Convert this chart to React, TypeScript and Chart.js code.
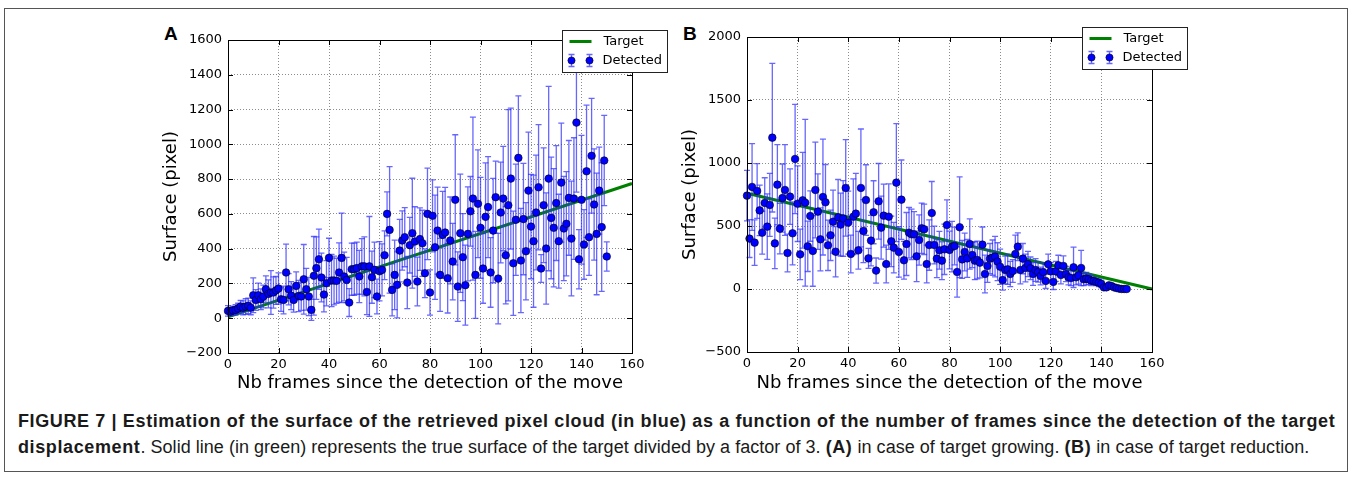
import React, { useEffect, useRef } from "react";
import { Chart, registerables } from "chart.js";

Chart.register(...registerables);

// ---------------- DATA ----------------
const FRAMES: number[] = Array.from({ length: 151 }, (_, i) => i);
const X_TICK_STEP = 20;

// Panel A: target growing
const DETECTED_A: number[] = [
  42, 38, 45, 48, 56, 67, 60, 67, 71, 60,
  132, 105, 132, 109, 125, 167, 140, 148, 148, 160,
  171, 109, 105, 263, 167, 130, 105, 186, 128, 125,
  224, 167, 125, 48, 244, 288, 339, 234, 136, 201,
  347, 217, 217, 215, 263, 347, 240, 220, 90, 282,
  282, 288, 240, 298, 298, 151, 298, 236, 278, 125,
  270, 278, 362, 600, 508, 163, 249, 192, 389, 447,
  466, 205, 420, 489, 441, 211, 455, 431, 259, 600,
  148, 589, 408, 504, 249, 479, 493, 230, 447, 326,
  681, 182, 489, 351, 190, 485, 615, 688, 249, 658,
  520, 286, 583, 639, 263, 504, 696, 228, 608, 688,
  362, 650, 803, 316, 566, 922, 332, 570, 385, 734,
  527, 443, 608, 753, 286, 650, 401, 803, 577, 520,
  662, 443, 780, 516, 543, 692, 458, 688, 1125, 339,
  681, 424, 845, 466, 934, 654, 485, 734, 524, 907,
  355,
];
const ERROR_A: number[] = [
  30, 25, 25, 30, 30, 35, 40, 45, 45, 40,
  100, 60, 70, 60, 65, 77, 80, 126, 90, 80,
  90, 70, 80, 163, 90, 80, 70, 80, 90, 80,
  200, 120, 110, 60, 226, 180, 173, 140, 100, 130,
  113, 150, 140, 130, 170, 257, 140, 130, 80, 150,
  150, 150, 150, 160, 170, 130, 287, 150, 160, 100,
  170, 150, 140, 127, 364, 150, 200, 190, 180, 170,
  170, 150, 160, 316, 200, 140, 180, 190, 140, 263,
  130, 207, 300, 250, 210, 250, 260, 200, 250, 220,
  374, 200, 340, 250, 230, 270, 200, 469, 250, 310,
  290, 200, 310, 290, 200, 300, 207, 260, 290, 300,
  280, 550, 405, 300, 320, 357, 300, 320, 280, 336,
  300, 380, 330, 360, 80, 330, 320, 530, 350, 340,
  330, 270, 342, 300, 300, 330, 330, 350, 400, 170,
  370, 200, 380, 220, 330, 320, 350, 250, 370, 260,
  84,
];
const TARGET_A_X: number[] = [0, 160];
const TARGET_A_Y: number[] = [8, 775];
const Y_TICKS_A = { min: -200, max: 1600, step: 200 };

// Panel B: target reduction
const DETECTED_B: number[] = [
  741, 400, 810, 368, 778, 624, 447, 683, 495, 667,
  1201, 362, 828, 479, 722, 786, 286, 733, 442, 1032,
  677, 275, 704, 685, 339, 579, 302, 786, 614, 394,
  730, 688, 347, 426, 534, 296, 569, 511, 560, 802,
  527, 278, 574, 598, 307, 802, 460, 706, 243, 384,
  609, 146, 696, 487, 582, 198, 574, 378, 328, 844,
  294, 709, 228, 357, 447, 434, 434, 259, 389, 482,
  474, 198, 349, 603, 349, 241, 307, 225, 315, 508,
  310, 336, 341, 135, 490, 235, 294, 243, 357, 270,
  225, 230, 209, 352, 119, 183, 241, 249, 257, 217,
  177, 71, 151, 156, 119, 143, 278, 336, 151, 241,
  167, 198, 164, 119, 151, 135, 103, 135, 64, 196,
  140, 56, 140, 188, 111, 183, 119, 93, 87, 172,
  93, 108, 167, 77, 82, 77, 66, 64, 56, 50,
  40, 13, 13, 29, 24, 13, 8, 3, 0, 0,
  0,
];
const ERROR_B: number[] = [
  200, 150, 344, 180, 217, 200, 170, 200, 260, 250,
  590, 200, 318, 200, 270, 360, 150, 220, 250, 434,
  300, 200, 380, 662, 200, 200, 280, 380, 300, 250,
  460, 300, 200, 200, 250, 200, 300, 250, 300, 383,
  250, 150, 300, 320, 150, 468, 250, 280, 80, 200,
  250, 100, 300, 250, 250, 150, 260, 200, 200, 468,
  200, 315, 150, 250, 200, 200, 180, 200, 200, 200,
  200, 150, 200, 250, 150, 150, 150, 150, 200, 200,
  150, 200, 150, 200, 400, 150, 150, 150, 200, 100,
  150, 150, 120, 140, 150, 130, 120, 140, 160, 150,
  140, 80, 110, 120, 100, 90, 150, 110, 110, 120,
  110, 100, 90, 90, 90, 80, 70, 70, 60, 80,
  70, 60, 80, 80, 70, 80, 60, 60, 60, 160,
  60, 70, 140, 50, 50, 40, 40, 30, 30, 30,
  30, 20, 20, 20, 15, 15, 10, 8, 8, 8,
  8,
];
const TARGET_B_X: number[] = [0, 160];
const TARGET_B_Y: number[] = [760, 0];
const Y_TICKS_B = { min: -500, max: 2000, step: 500 };

const LEGEND_LABELS = ["Target", "Detected"];
const X_TITLE = "Nb frames since the detection of the move";
const Y_TITLE = "Surface (pixel)";

// ---------------- STYLE ----------------
const TICK_FONT = { family: "'DejaVu Sans', sans-serif", size: 13 };
const TITLE_FONT = { family: "'DejaVu Sans', sans-serif", size: 18 };
const GREEN = "#008000";
const BLUE = "#0000ff";
const ERR_COLOR = "rgba(45,45,255,0.72)";

type Panel = {
  detected: number[];
  errors: number[];
  tx: number[];
  ty: number[];
  yt: { min: number; max: number; step: number };
  yWidth: number;
  xHeight: number;
  padTop: number;
  padRight: number;
  yTitlePad: number;
};

const PANEL_A: Panel = {
  detected: DETECTED_A,
  errors: ERROR_A,
  tx: TARGET_A_X,
  ty: TARGET_A_Y,
  yt: Y_TICKS_A,
  yWidth: 93,
  xHeight: 52,
  padTop: 30,
  padRight: 43,
  yTitlePad: 26,
};
const PANEL_B: Panel = {
  detected: DETECTED_B,
  errors: ERROR_B,
  tx: TARGET_B_X,
  ty: TARGET_B_Y,
  yt: Y_TICKS_B,
  yWidth: 72,
  xHeight: 53,
  padTop: 27,
  padRight: 48,
  yTitlePad: 5,
};

const fmt = (v: number | string) => String(v).replace("-", "\u2212");

function makeChart(canvas: HTMLCanvasElement, p: Panel) {
  const errPlugin = {
    id: "errbars",
    afterDatasetDraw(chart: any, args: any) {
      if (args.index !== 0) return;
      const { ctx, scales } = chart;
      const xs = scales.x;
      const ys = scales.y;
      ctx.save();
      ctx.strokeStyle = ERR_COLOR;
      ctx.lineWidth = 1.3;
      FRAMES.forEach((f, i) => {
        const v = p.detected[i];
        const e = p.errors[i];
        const px = xs.getPixelForValue(f);
        const top = ys.getPixelForValue(v + e);
        const bot = ys.getPixelForValue(v - e);
        ctx.beginPath();
        ctx.moveTo(px, top);
        ctx.lineTo(px, bot);
        ctx.moveTo(px - 3, top);
        ctx.lineTo(px + 3, top);
        ctx.moveTo(px - 3, bot);
        ctx.lineTo(px + 3, bot);
        ctx.stroke();
      });
      ctx.restore();
    },
  };

  const framePlugin = {
    id: "frameTicks",
    afterDraw(chart: any) {
      const { ctx, chartArea: a, scales } = chart;
      ctx.save();
      ctx.strokeStyle = "#000";
      ctx.lineWidth = 1;
      // inward ticks
      ctx.beginPath();
      scales.x.ticks.forEach((t: any) => {
        const px = Math.round(scales.x.getPixelForValue(t.value)) + 0.5;
        ctx.moveTo(px, a.bottom);
        ctx.lineTo(px, a.bottom - 5);
        ctx.moveTo(px, a.top);
        ctx.lineTo(px, a.top + 5);
      });
      scales.y.ticks.forEach((t: any) => {
        const py = Math.round(scales.y.getPixelForValue(t.value)) + 0.5;
        ctx.moveTo(a.left, py);
        ctx.lineTo(a.left + 5, py);
        ctx.moveTo(a.right, py);
        ctx.lineTo(a.right - 5, py);
      });
      ctx.stroke();
      ctx.strokeRect(
        Math.round(a.left) + 0.5,
        Math.round(a.top) + 0.5,
        Math.round(a.right - a.left),
        Math.round(a.bottom - a.top)
      );

      // legend box
      const bx = Math.round(a.right) - 70 + 0.5;
      const by = Math.round(a.top) - 10 + 0.5;
      const bw = 105;
      const bh = 42;
      ctx.fillStyle = "#fff";
      ctx.fillRect(bx, by, bw, bh);
      ctx.strokeStyle = "#222";
      ctx.strokeRect(bx, by, bw, bh);
      // target sample
      ctx.strokeStyle = GREEN;
      ctx.lineWidth = 3;
      ctx.beginPath();
      ctx.moveTo(bx + 7, by + 11);
      ctx.lineTo(bx + 29, by + 11);
      ctx.stroke();
      // detected sample
      [bx + 9, bx + 27].forEach((cx) => {
        const cy = by + 30;
        ctx.strokeStyle = ERR_COLOR;
        ctx.lineWidth = 1.3;
        ctx.beginPath();
        ctx.moveTo(cx, cy - 6);
        ctx.lineTo(cx, cy + 6);
        ctx.moveTo(cx - 3, cy - 6);
        ctx.lineTo(cx + 3, cy - 6);
        ctx.moveTo(cx - 3, cy + 6);
        ctx.lineTo(cx + 3, cy + 6);
        ctx.stroke();
        ctx.fillStyle = BLUE;
        ctx.strokeStyle = "#000";
        ctx.lineWidth = 0.6;
        ctx.beginPath();
        ctx.arc(cx, cy, 3.6, 0, Math.PI * 2);
        ctx.fill();
        ctx.stroke();
      });
      ctx.fillStyle = "#000";
      ctx.font = "13px 'DejaVu Sans', sans-serif";
      ctx.textBaseline = "middle";
      ctx.textAlign = "left";
      ctx.fillText(LEGEND_LABELS[0], bx + 41, by + 11);
      ctx.fillText(LEGEND_LABELS[1], bx + 40, by + 30);
      ctx.restore();
    },
  };

  return new Chart(canvas, {
    type: "scatter",
    data: {
      datasets: [
        {
          label: LEGEND_LABELS[0],
          data: p.tx.map((x, i) => ({ x, y: p.ty[i] })),
          showLine: true,
          borderColor: GREEN,
          borderWidth: 3,
          pointRadius: 0,
          order: 1,
        },
        {
          label: LEGEND_LABELS[1],
          data: FRAMES.map((x, i) => ({ x, y: p.detected[i] })),
          showLine: false,
          backgroundColor: BLUE,
          borderColor: "#000",
          borderWidth: 0.6,
          pointRadius: 3.8,
          order: 0,
        },
      ],
    },
    options: {
      responsive: false,
      animation: false,
      clip: false as any,
      layout: { padding: { top: p.padTop, right: p.padRight, left: 0, bottom: 0 } },
      plugins: { legend: { display: false }, tooltip: { enabled: false } },
      scales: {
        x: {
          type: "linear",
          min: 0,
          max: 160,
          afterFit: (s: any) => {
            s.height = p.xHeight;
          },
          ticks: {
            stepSize: X_TICK_STEP,
            color: "#000",
            font: TICK_FONT,
            padding: 4,
            maxRotation: 0,
            callback: (v: any) => fmt(v),
          },
          grid: { color: "rgba(0,0,0,0.45)", lineWidth: 1, drawTicks: false },
          border: { display: false, dash: [1, 2] },
          title: {
            display: true,
            text: X_TITLE,
            color: "#000",
            font: TITLE_FONT,
            padding: { top: 0, bottom: 11 },
          },
        },
        y: {
          type: "linear",
          min: p.yt.min,
          max: p.yt.max,
          afterFit: (s: any) => {
            s.width = p.yWidth;
          },
          ticks: {
            stepSize: p.yt.step,
            color: "#000",
            font: TICK_FONT,
            padding: 6,
            callback: (v: any) => fmt(v),
          },
          grid: { color: "rgba(0,0,0,0.45)", lineWidth: 1, drawTicks: false },
          border: { display: false, dash: [1, 2] },
          title: {
            display: true,
            text: Y_TITLE,
            color: "#000",
            font: TITLE_FONT,
            padding: { top: p.yTitlePad, bottom: 0 },
          },
        },
      },
    } as any,
    plugins: [errPlugin, framePlugin],
  });
}

export default function App() {
  const refA = useRef<HTMLCanvasElement>(null);
  const refB = useRef<HTMLCanvasElement>(null);

  useEffect(() => {
    const a = makeChart(refA.current!, PANEL_A);
    const b = makeChart(refB.current!, PANEL_B);
    return () => {
      a.destroy();
      b.destroy();
    };
  }, []);

  const capStyle: React.CSSProperties = {
    position: "absolute",
    left: 18,
    top: 408,
    width: 1330,
    fontFamily: "'Liberation Sans', Arial, sans-serif",
    fontSize: 18,
    lineHeight: "26px",
    color: "#1a1a1a",
    whiteSpace: "nowrap",
  };
  const boldSp = { letterSpacing: "0.62px" };

  return (
    <div
      style={{
        position: "fixed",
        left: 0,
        top: 0,
        width: 1352,
        height: 478,
        background: "#fff",
        overflow: "hidden",
      }}
    >
      <div
        style={{
          position: "absolute",
          left: 4,
          top: 8,
          width: 1342,
          height: 462,
          border: "1px solid #555",
        }}
      />
      <div
        style={{
          position: "absolute",
          left: 164,
          top: 23,
          fontFamily: "'Liberation Sans', Arial, sans-serif",
          fontWeight: "bold",
          fontSize: 19,
          color: "#000",
        }}
      >
        A
      </div>
      <div
        style={{
          position: "absolute",
          left: 683,
          top: 23,
          fontFamily: "'Liberation Sans', Arial, sans-serif",
          fontWeight: "bold",
          fontSize: 19,
          color: "#000",
        }}
      >
        B
      </div>
      <canvas
        ref={refA}
        width={540}
        height={395}
        style={{ position: "absolute", left: 135, top: 10, display: "block" }}
      />
      <canvas
        ref={refB}
        width={525}
        height={395}
        style={{ position: "absolute", left: 675, top: 10, display: "block" }}
      />
      <div style={capStyle}>
        <div style={{ fontWeight: "bold", ...boldSp }}>
          FIGURE 7 | Estimation of the surface of the retrieved pixel cloud (in blue) as a function of the number of frames since the detection of the target
        </div>
        <div style={{ letterSpacing: "0.03px" }}>
          <b style={boldSp}>displacement</b>. Solid line (in green) represents the true surface of the target divided by a factor of 3. <b style={boldSp}>(A)</b> in case of target growing. <b style={boldSp}>(B)</b> in case of target reduction.
        </div>
      </div>
    </div>
  );
}
